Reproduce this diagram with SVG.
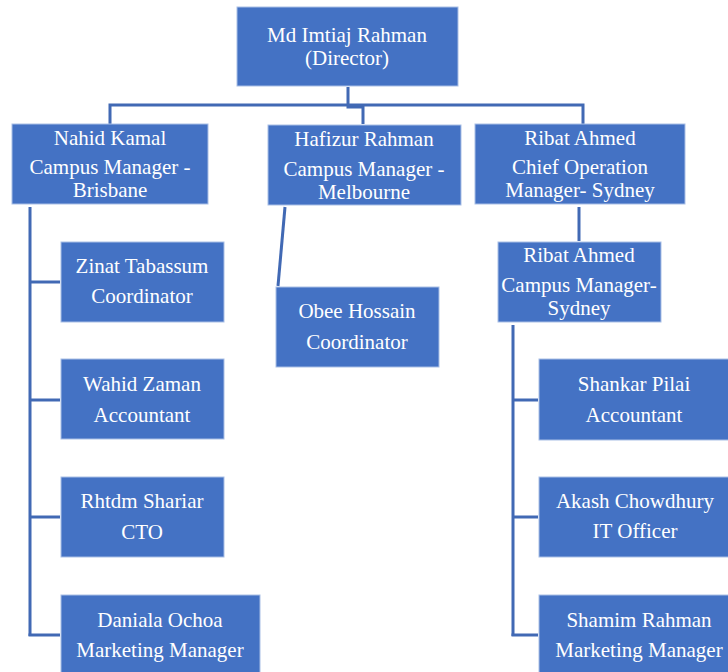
<svg xmlns="http://www.w3.org/2000/svg" width="728" height="672" viewBox="0 0 728 672">
<style>
.box{fill:#4472C4;stroke:#A9BFE6;stroke-width:1}
.t{font-family:"Liberation Serif","Times New Roman",serif;font-size:21px;fill:#FFFFFF;text-anchor:middle}
.c{fill:none;stroke:#4169B4;stroke-width:3}
</style>
<rect width="728" height="672" fill="#FFFFFF"/>
<g id="connectors">
<polyline class="c" points="348,87 348,107 363,107 363,124"/>
<polyline class="c" points="110,124 110,105 583,105 583,124"/>
<line class="c" x1="285" y1="207" x2="278" y2="286"/>
<line class="c" x1="30" y1="207" x2="30" y2="636"/>
<line class="c" x1="30" y1="282" x2="60" y2="282"/>
<line class="c" x1="30" y1="400" x2="60" y2="400"/>
<line class="c" x1="30" y1="517" x2="60" y2="517"/>
<line class="c" x1="28.5" y1="635" x2="60" y2="635"/>
<line class="c" x1="579" y1="207" x2="579" y2="241"/>
<line class="c" x1="513" y1="325" x2="513" y2="636"/>
<line class="c" x1="513" y1="400" x2="538" y2="400"/>
<line class="c" x1="513" y1="517" x2="538" y2="517"/>
<line class="c" x1="511.5" y1="635" x2="538" y2="635"/>
</g>
<g id="director">
<rect class="box" x="237" y="7" width="221" height="79"/>
<text class="t" x="347" y="42">Md Imtiaj Rahman</text>
<text class="t" x="347" y="65">(Director)</text>
</g>
<g id="nahid">
<rect class="box" x="12" y="124" width="196" height="80"/>
<text class="t" x="110" y="145">Nahid Kamal</text>
<text class="t" x="110" y="174">Campus Manager -</text>
<text class="t" x="110" y="197">Brisbane</text>
</g>
<g id="hafizur">
<rect class="box" x="268" y="125" width="193" height="80"/>
<text class="t" x="364" y="146">Hafizur Rahman</text>
<text class="t" x="364" y="176">Campus Manager -</text>
<text class="t" x="364" y="199">Melbourne</text>
</g>
<g id="ribat">
<rect class="box" x="475" y="124" width="210" height="80"/>
<text class="t" x="580" y="145">Ribat Ahmed</text>
<text class="t" x="580" y="174">Chief Operation</text>
<text class="t" x="580" y="197">Manager- Sydney</text>
</g>
<g id="ribat2">
<rect class="box" x="498" y="242" width="163" height="80"/>
<text class="t" x="579" y="262">Ribat Ahmed</text>
<text class="t" x="579" y="292">Campus Manager-</text>
<text class="t" x="579" y="315">Sydney</text>
</g>
<g id="zinat">
<rect class="box" x="61" y="242" width="163" height="80"/>
<text class="t" x="142" y="273">Zinat Tabassum</text>
<text class="t" x="142" y="303">Coordinator</text>
</g>
<g id="wahid">
<rect class="box" x="61" y="359" width="163" height="80"/>
<text class="t" x="142" y="391">Wahid Zaman</text>
<text class="t" x="142" y="422">Accountant</text>
</g>
<g id="rhtdm">
<rect class="box" x="61" y="477" width="163" height="80"/>
<text class="t" x="142" y="508">Rhtdm Shariar</text>
<text class="t" x="142" y="539">CTO</text>
</g>
<g id="daniala">
<rect class="box" x="61" y="595" width="199" height="80"/>
<text class="t" x="160" y="627">Daniala Ochoa</text>
<text class="t" x="160" y="657">Marketing Manager</text>
</g>
<g id="obee">
<rect class="box" x="276" y="287" width="163" height="80"/>
<text class="t" x="357" y="318">Obee Hossain</text>
<text class="t" x="357" y="349">Coordinator</text>
</g>
<g id="shankar">
<rect class="box" x="539" y="359" width="192" height="81"/>
<text class="t" x="634" y="391">Shankar Pilai</text>
<text class="t" x="634" y="422">Accountant</text>
</g>
<g id="akash">
<rect class="box" x="539" y="477" width="192" height="80"/>
<text class="t" x="635" y="508">Akash Chowdhury</text>
<text class="t" x="635" y="538">IT Officer</text>
</g>
<g id="shamim">
<rect class="box" x="539" y="595" width="199" height="80"/>
<text class="t" x="639" y="627">Shamim Rahman</text>
<text class="t" x="639" y="657">Marketing Manager</text>
</g>
</svg>
